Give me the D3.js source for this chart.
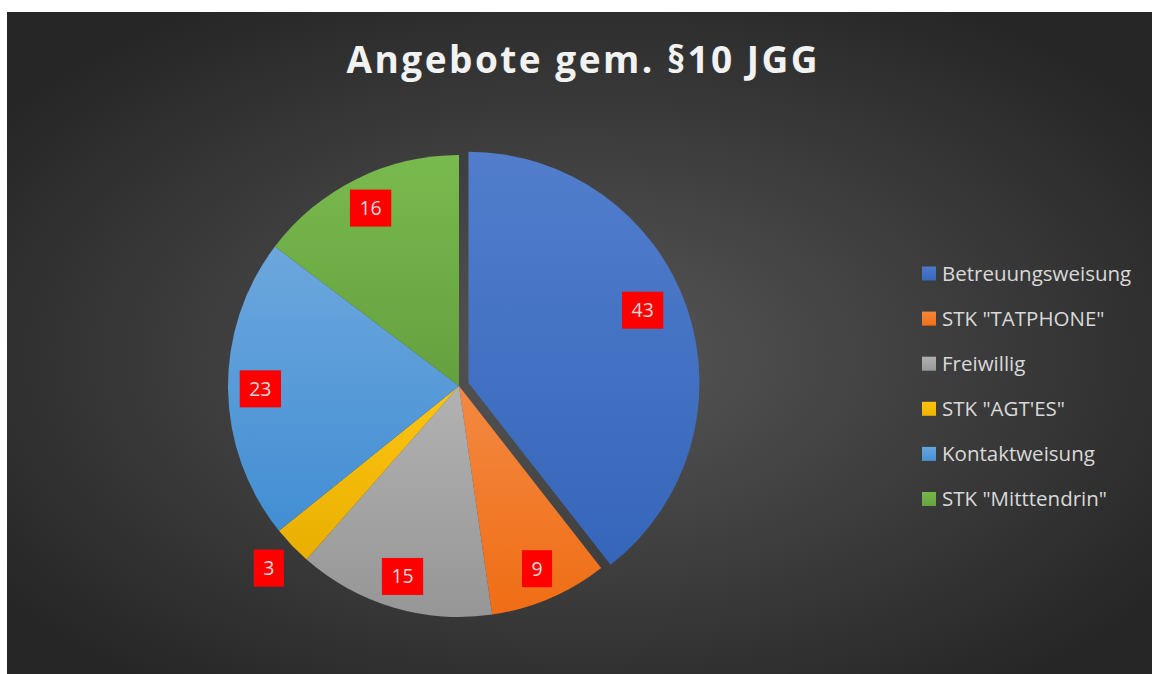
<!DOCTYPE html>
<html>
<head>
<meta charset="utf-8">
<script src="https://cdn.jsdelivr.net/npm/d3@7"></script>
<style>
  html, body { margin: 0; padding: 0; background: #ffffff; }
  svg { display: block; }
</style>
</head>
<body>
<svg id="chart" width="1152" height="674"></svg>
<script>
// ---- data ----
const title = "Angebote gem. §10 JGG";
const categories = ["Betreuungsweisung", "STK \"TATPHONE\"", "Freiwillig", "STK \"AGT'ES\"", "Kontaktweisung", "STK \"Mitttendrin\""];
const values = [43, 9, 15, 3, 23, 16];
const colors = ["#4472C4", "#ED7D31", "#A5A5A5", "#FFC000", "#5B9BD5", "#70AD47"];
const exploded = [true, false, false, false, false, false];

// ---- layout ----
const W = 1152, H = 674;
const cx = 459, cy = 386, R = 231;
const explodeDist = 10;

const svg = d3.select("#chart");
const defs = svg.append("defs");

function tone(c, lf, sf) {
  const h = d3.hsl(c);
  h.l = Math.min(1, h.l * lf);
  h.s = Math.min(1, h.s * sf);
  return h.formatHex();
}

// background radial gradient
const bg = defs.append("radialGradient").attr("id", "bgGrad")
  .attr("cx", "50%").attr("cy", "52%").attr("r", "62%");
bg.append("stop").attr("offset", "0%").attr("stop-color", "#575757");
bg.append("stop").attr("offset", "100%").attr("stop-color", "#262626");

svg.append("rect").attr("x", 7).attr("y", 12).attr("width", W - 7).attr("height", H - 12)
  .attr("fill", "url(#bgGrad)");

// title
svg.append("text")
  .attr("x", 582).attr("y", 73)
  .attr("text-anchor", "middle")
  .attr("font-family", "'Open Sans', 'DejaVu Sans', sans-serif")
  .attr("font-weight", "bold")
  .attr("font-size", 37)
  .attr("fill", "#f2f2f2")
  .attr("textLength", 471)
  .attr("lengthAdjust", "spacing")
  .text(title);

// slice gradients (per slice, top lighter -> bottom darker)
colors.forEach((c, i) => {
  const g = defs.append("linearGradient").attr("id", "sg" + i)
    .attr("x1", 0).attr("y1", 0).attr("x2", 0).attr("y2", 1);
  g.append("stop").attr("offset", "0%").attr("stop-color", tone(c, 1.08, 1.05));
  g.append("stop").attr("offset", "100%").attr("stop-color", tone(c, 0.91, 1.05));
});

const pie = d3.pie().sort(null).value(d => d.v);
const arcs = pie(values.map((v, i) => ({ v, i })));
const arc = d3.arc().innerRadius(0).outerRadius(R);
const total = d3.sum(values);

const pieG = svg.append("g").attr("transform", `translate(${cx},${cy})`);

function offsetOf(d) {
  if (!exploded[d.data.i]) return [0, 0];
  const a = (d.startAngle + d.endAngle) / 2;
  return [Math.sin(a) * explodeDist, -Math.cos(a) * explodeDist];
}

pieG.selectAll("path.slice").data(arcs).enter().append("path")
  .attr("class", "slice")
  .attr("transform", d => { const o = offsetOf(d); return `translate(${o[0]},${o[1]})`; })
  .attr("d", arc)
  .attr("fill", d => `url(#sg${d.data.i})`);

// data labels (best-fit style: inside for large slices, outside for tiny ones)
const labelG = pieG.append("g");
arcs.forEach(d => {
  const share = d.data.v / total;
  const small = share < 0.05;
  const a = (d.startAngle + d.endAngle) / 2 - (share > 0.3 ? 0.06 : 0);
  const rr = R * (small ? 1.14 : 0.86);
  const x = Math.sin(a) * rr;
  const y = -Math.cos(a) * rr;
  const g = labelG.append("g").attr("transform", `translate(${x},${y})`);
  const rect = g.append("rect").attr("fill", "#ff0000");
  const t = g.append("text")
    .attr("text-anchor", "middle")
    .attr("dy", "0.36em")
    .attr("font-family", "'Open Sans', 'DejaVu Sans', sans-serif")
    .attr("font-size", 19.5)
    .attr("fill", "#d9d9d9")
    .text(d.data.v);
  const tw = t.node().getComputedTextLength();
  const bw = tw + 19, bh = 37;
  rect.attr("x", -bw / 2).attr("y", -bh / 2).attr("width", bw).attr("height", bh);
});

// legend
const legendY = d3.scalePoint().domain(categories).range([273.5, 499]);
const legend = svg.append("g");
categories.forEach((c, i) => {
  const y = legendY(c);
  const g = defs.append("linearGradient").attr("id", "lg" + i)
    .attr("x1", 0).attr("y1", 0).attr("x2", 0).attr("y2", 1);
  g.append("stop").attr("offset", "0%").attr("stop-color", tone(colors[i], 1.06, 1.05));
  g.append("stop").attr("offset", "100%").attr("stop-color", tone(colors[i], 0.93, 1.05));
  legend.append("rect")
    .attr("x", 922).attr("y", y - 7).attr("width", 14).attr("height", 14)
    .attr("fill", `url(#lg${i})`);
  legend.append("text")
    .attr("x", 942).attr("y", y).attr("dy", "0.35em")
    .attr("font-family", "'Open Sans', 'DejaVu Sans', sans-serif")
    .attr("font-size", 20.5)
    .attr("fill", "#d9d9d9")
    .text(c);
});
</script>
</body>
</html>
